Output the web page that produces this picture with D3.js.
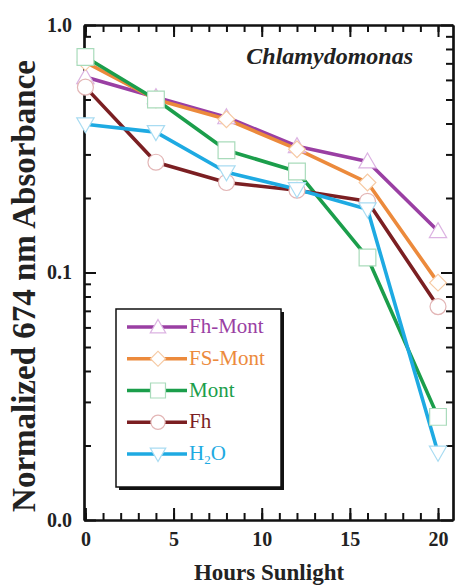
<!DOCTYPE html>
<html>
<head>
<meta charset="utf-8">
<script src="https://cdn.jsdelivr.net/npm/d3@7/dist/d3.min.js"></script>
</head>
<body style="margin:0;background:#fff">
<svg id="chart" width="456" height="585" style="display:block"></svg>
<script>
// Hours of sunlight exposure
const hours = [0, 4, 8, 12, 16, 20];

// Normalized 674 nm absorbance per treatment
const fhMont = [0.616, 0.511, 0.424, 0.324, 0.281, 0.147];
const fsMont = [0.708, 0.500, 0.416, 0.315, 0.231, 0.091];
const mont   = [0.742, 0.500, 0.312, 0.256, 0.115, 0.0261];
const fh     = [0.561, 0.279, 0.231, 0.215, 0.194, 0.0728];
const h2o    = [0.397, 0.369, 0.254, 0.217, 0.180, 0.0187];

const seriesNames = ["Fh-Mont", "FS-Mont", "Mont", "Fh", "H2O"];

// Axis ticks
const xMajorTicks = [0, 5, 10, 15, 20];
const yMajorTicks = [0.01, 0.1, 1];
const yTickLabels = ["0.0", "0.1", "1.0"];

const FONT = "Liberation Serif";

const series = [
  { name: seriesNames[0], values: fhMont, color: "#9a3fa3", mark: "#dcb3e2", shape: "tri" },
  { name: seriesNames[1], values: fsMont, color: "#ec8a3c", mark: "#f6caa4", shape: "diamond" },
  { name: seriesNames[2], values: mont,   color: "#1b9e4b", mark: "#a9dbbb", shape: "square" },
  { name: seriesNames[3], values: fh,     color: "#7b1f22", mark: "#e3b6b6", shape: "circle" },
  { name: seriesNames[4], values: h2o,    color: "#1eaae2", mark: "#a9dcf2", shape: "triDown" }
];

const svg = d3.select("#chart");
const plotLeft = 84, plotRight = 453, plotTop = 25, plotBottom = 520;

const x = d3.scaleLinear().domain([-0.08, 20.85]).range([plotLeft, plotRight]);
const y = d3.scaleLog().domain([0.01, 1]).range([plotBottom, plotTop]);

const minorX = d3.range(0, 21);
const minorY = [];
[0.01, 0.1].forEach(d => { for (let k = 2; k <= 9; k++) minorY.push(+(d * k).toPrecision(3)); });

function styleAxis(g) {
  g.attr("font-family", FONT);
  g.selectAll(".domain").attr("stroke", "#111").attr("stroke-width", 2.2);
  g.selectAll(".tick line").attr("stroke", "#111").attr("stroke-width", 2);
  g.selectAll(".tick text").attr("fill", "#222").attr("font-weight", "bold")
    .attr("font-size", 20).attr("font-family", FONT);
}

// bottom axis: minor, then major with labels
svg.append("g").attr("transform", `translate(0,${plotBottom})`)
  .call(d3.axisBottom(x).tickValues(minorX).tickSize(-7).tickSizeOuter(0).tickFormat(""))
  .call(styleAxis);
svg.append("g").attr("transform", `translate(0,${plotBottom})`)
  .call(d3.axisBottom(x).tickValues(xMajorTicks).tickSize(-12).tickSizeOuter(0).tickPadding(12).tickFormat(d3.format("d")))
  .call(styleAxis);

// top axis mirrors the bottom ticks
svg.append("g").attr("transform", `translate(0,${plotTop})`)
  .call(d3.axisTop(x).tickValues(minorX).tickSize(-7).tickSizeOuter(0).tickFormat(""))
  .call(styleAxis);
svg.append("g").attr("transform", `translate(0,${plotTop})`)
  .call(d3.axisTop(x).tickValues(xMajorTicks).tickSize(-12).tickSizeOuter(0).tickFormat(""))
  .call(styleAxis);

// left axis
svg.append("g").attr("transform", `translate(${plotLeft},0)`)
  .call(d3.axisLeft(y).tickValues(minorY).tickSize(-7).tickSizeOuter(0).tickFormat(""))
  .call(styleAxis);
svg.append("g").attr("transform", `translate(${plotLeft},0)`)
  .call(d3.axisLeft(y).tickValues(yMajorTicks).tickSize(-12).tickSizeOuter(0).tickPadding(12)
    .tickFormat((d, i) => yTickLabels[i]))
  .call(styleAxis);

// right axis
svg.append("g").attr("transform", `translate(${plotRight},0)`)
  .call(d3.axisRight(y).tickValues(minorY).tickSize(-7).tickSizeOuter(0).tickFormat(""))
  .call(styleAxis);
svg.append("g").attr("transform", `translate(${plotRight},0)`)
  .call(d3.axisRight(y).tickValues(yMajorTicks).tickSize(-12).tickSizeOuter(0).tickFormat(""))
  .call(styleAxis);

// marker shapes
const symbolFor = {
  tri:     { type: d3.symbolTriangle, size: 130, rot: 0,   dy: 1.5 },
  triDown: { type: d3.symbolTriangle, size: 130, rot: 180, dy: -1.5 },
  square:  { type: d3.symbolSquare,   size: 280, rot: 0,   dy: 0 },
  diamond: { type: d3.symbolSquare,   size: 140, rot: 45,  dy: 0 },
  circle:  { type: d3.symbolCircle,   size: 200, rot: 0,   dy: 0 }
};

const line = d3.line().x((d, i) => x(hours[i])).y(d => y(d));

const plot = svg.append("g");
series.forEach(s => {
  plot.append("path").datum(s.values)
    .attr("d", line).attr("fill", "none")
    .attr("stroke", s.color).attr("stroke-width", 3.6).attr("stroke-linejoin", "round");
});
series.forEach(s => {
  const sym = symbolFor[s.shape];
  plot.append("g").selectAll("path").data(s.values).join("path")
    .attr("d", d3.symbol(sym.type, sym.size))
    .attr("transform", (d, i) => `translate(${x(hours[i])},${y(d) + sym.dy}) rotate(${sym.rot})`)
    .attr("fill", "#fff").attr("stroke", s.mark).attr("stroke-width", 1.2);
});

// organism label
svg.append("text").attr("x", 413).attr("y", 64).attr("text-anchor", "end")
  .attr("font-family", FONT).attr("font-size", 24).attr("font-weight", "bold").attr("font-style", "italic")
  .attr("fill", "#222").text("Chlamydomonas");

// legend
const lg = { x: 116, y: 309, w: 165, h: 178 };
svg.append("rect").attr("x", lg.x + 3).attr("y", lg.y + 3).attr("width", lg.w).attr("height", lg.h)
  .attr("fill", "#111");
svg.append("rect").attr("x", lg.x).attr("y", lg.y).attr("width", lg.w).attr("height", lg.h)
  .attr("fill", "#fff").attr("stroke", "#111").attr("stroke-width", 1.5);

const rowY = d3.scalePoint().domain(seriesNames).range([327, 454]);
series.forEach(s => {
  const yy = rowY(s.name);
  const sym = symbolFor[s.shape];
  svg.append("line").attr("x1", 127).attr("x2", 187).attr("y1", yy).attr("y2", yy)
    .attr("stroke", s.color).attr("stroke-width", 3.6);
  svg.append("path").attr("d", d3.symbol(sym.type, sym.size * 0.8))
    .attr("transform", `translate(158,${yy + sym.dy}) rotate(${sym.rot})`)
    .attr("fill", "#fff").attr("stroke", s.mark).attr("stroke-width", 1.2);
  const t = svg.append("text").attr("x", 189).attr("y", yy + 6)
    .attr("font-family", FONT).attr("font-size", 21).attr("fill", s.color);
  if (s.name === "H2O") {
    t.append("tspan").text("H");
    t.append("tspan").attr("font-size", 13).attr("dy", 4).text("2");
    t.append("tspan").attr("dy", -4).text("O");
  } else {
    t.text(s.name);
  }
});

// axis titles
svg.append("text").attr("x", 269).attr("y", 580).attr("text-anchor", "middle")
  .attr("font-family", FONT).attr("font-size", 23).attr("font-weight", "bold")
  .attr("fill", "#222").text("Hours Sunlight");
svg.append("text").attr("transform", "translate(35,286) rotate(-90)").attr("text-anchor", "middle")
  .attr("font-family", FONT).attr("font-size", 33).attr("font-weight", "bold")
  .attr("fill", "#222").text("Normalized 674 nm Absorbance");
</script>
</body>
</html>
